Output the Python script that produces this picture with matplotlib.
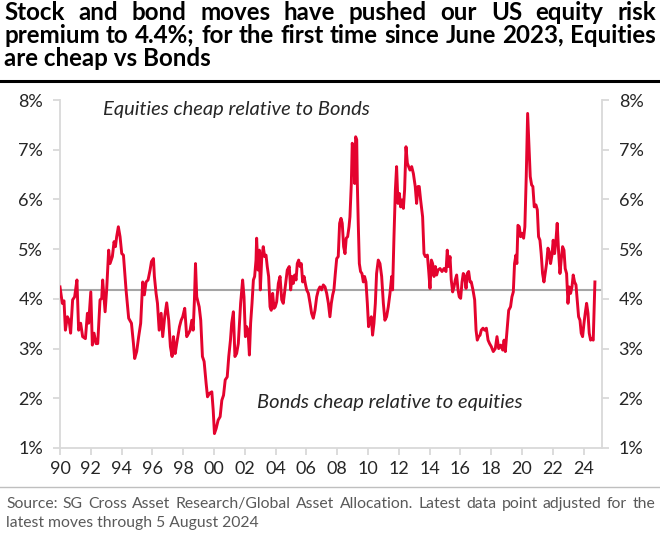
import matplotlib
matplotlib.use("Agg")
import matplotlib.pyplot as plt
from matplotlib.ticker import MultipleLocator, FuncFormatter

plt.rcParams['font.family'] = ['Lato', 'DejaVu Sans']

# decimal year, equity risk premium (%)
years = [
    1990.0, 1990.15, 1990.26, 1990.35, 1990.48, 1990.59, 1990.69, 1990.82, 1990.95, 1991.1,
    1991.21, 1991.34, 1991.47, 1991.65, 1991.78, 1991.86, 1992.0, 1992.1, 1992.21, 1992.34,
    1992.45, 1992.6, 1992.71, 1992.77, 1992.93, 1993.03, 1993.16, 1993.25, 1993.4, 1993.51,
    1993.6, 1993.68, 1993.79, 1993.9, 1994.01, 1994.12, 1994.29, 1994.46, 1994.64, 1994.77,
    1994.85, 1994.98, 1995.11, 1995.24, 1995.37, 1995.48, 1995.59, 1995.72, 1995.85, 1995.94,
    1996.07, 1996.13, 1996.24, 1996.33, 1996.44, 1996.57, 1996.67, 1996.8, 1996.93, 1997.06,
    1997.17, 1997.28, 1997.37, 1997.48, 1997.58, 1997.76, 1997.87, 1997.97, 1998.1, 1998.23,
    1998.36, 1998.45, 1998.56, 1998.65, 1998.73, 1998.8, 1998.88, 1999.04, 1999.14, 1999.25,
    1999.36, 1999.49, 1999.58, 1999.71, 1999.86, 1999.95, 2000.03, 2000.14, 2000.27, 2000.4,
    2000.51, 2000.62, 2000.73, 2000.86, 2000.96, 2001.07, 2001.15, 2001.26, 2001.36, 2001.47,
    2001.58, 2001.73, 2001.86, 2001.95, 2002.04, 2002.12, 2002.21, 2002.3, 2002.38, 2002.47,
    2002.56, 2002.64, 2002.73, 2002.77, 2002.86, 2002.95, 2003.01, 2003.1, 2003.2, 2003.29,
    2003.38, 2003.46, 2003.55, 2003.64, 2003.72, 2003.81, 2003.9, 2003.98, 2004.07, 2004.18,
    2004.29, 2004.4, 2004.5, 2004.63, 2004.76, 2004.89, 2004.98, 2005.07, 2005.15, 2005.24,
    2005.33, 2005.41, 2005.5, 2005.59, 2005.67, 2005.76, 2005.85, 2005.93, 2006.02, 2006.13,
    2006.24, 2006.34, 2006.45, 2006.56, 2006.67, 2006.78, 2006.88, 2006.99, 2007.1, 2007.21,
    2007.32, 2007.43, 2007.53, 2007.62, 2007.71, 2007.79, 2007.88, 2007.97, 2008.07, 2008.16,
    2008.25, 2008.33, 2008.42, 2008.51, 2008.59, 2008.68, 2008.77, 2008.83, 2008.92, 2008.98,
    2009.07, 2009.14, 2009.2, 2009.27, 2009.31, 2009.37, 2009.44, 2009.52, 2009.61, 2009.7,
    2009.78, 2009.87, 2009.96, 2010.04, 2010.13, 2010.22, 2010.3, 2010.39, 2010.48, 2010.56,
    2010.67, 2010.78, 2010.89, 2011.0, 2011.1, 2011.21, 2011.32, 2011.43, 2011.54, 2011.6,
    2011.69, 2011.78, 2011.86, 2011.95, 2012.04, 2012.12, 2012.21, 2012.3, 2012.38, 2012.47,
    2012.56, 2012.64, 2012.73, 2012.84, 2012.95, 2013.07, 2013.16, 2013.25, 2013.33, 2013.42,
    2013.55, 2013.64, 2013.73, 2013.86, 2013.94, 2014.03, 2014.12, 2014.2, 2014.29, 2014.38,
    2014.46, 2014.55, 2014.68, 2014.81, 2014.94, 2015.07, 2015.15, 2015.24, 2015.33, 2015.41,
    2015.5, 2015.59, 2015.67, 2015.76, 2015.85, 2015.93, 2016.02, 2016.11, 2016.19, 2016.28,
    2016.37, 2016.45, 2016.54, 2016.63, 2016.71, 2016.82, 2016.93, 2017.02, 2017.1, 2017.19,
    2017.28, 2017.36, 2017.47, 2017.58, 2017.69, 2017.8, 2017.9, 2018.01, 2018.14, 2018.27,
    2018.38, 2018.49, 2018.62, 2018.75, 2018.84, 2018.92, 2019.05, 2019.14, 2019.26, 2019.35,
    2019.44, 2019.52, 2019.61, 2019.67, 2019.74, 2019.83, 2019.91, 2020.0, 2020.11, 2020.19,
    2020.28, 2020.37, 2020.45, 2020.54, 2020.63, 2020.71, 2020.8, 2020.91, 2021.0, 2021.08,
    2021.17, 2021.25, 2021.34, 2021.43, 2021.51, 2021.6, 2021.69, 2021.77, 2021.86, 2021.95,
    2022.03, 2022.12, 2022.21, 2022.29, 2022.38, 2022.47, 2022.55, 2022.64, 2022.73, 2022.81,
    2022.9, 2022.99, 2023.07, 2023.16, 2023.25, 2023.33, 2023.42, 2023.51, 2023.59, 2023.68,
    2023.77, 2023.85, 2023.94, 2024.03, 2024.11, 2024.2, 2024.29, 2024.37, 2024.46, 2024.55,
    2024.63, 2024.74,
]
erp = [
    4.24, 3.91, 3.96, 3.37, 3.64, 3.57, 3.31, 3.98, 4.04, 4.38,
    3.37, 3.51, 3.24, 3.2, 3.71, 3.51, 4.14, 3.07, 3.31, 3.1,
    3.1, 3.98, 4.01, 4.38, 3.74, 4.18, 4.98, 4.71, 4.85, 5.15,
    5.05, 5.25, 5.45, 5.25, 4.91, 4.88, 4.18, 3.61, 3.51, 3.1,
    2.8, 2.94, 3.24, 3.51, 4.34, 4.08, 4.34, 4.38, 4.58, 4.75,
    4.81, 4.45, 4.11, 3.91, 3.37, 3.71, 3.24, 3.64, 3.92, 3.57,
    3.04, 2.84, 3.24, 2.9, 3.1, 3.44, 3.57, 3.64, 3.81, 3.24,
    3.31, 3.37, 3.57, 3.37, 3.98, 4.71, 4.04, 3.84, 3.57, 2.84,
    2.74, 2.3, 2.03, 2.1, 2.13, 1.76, 1.29, 1.39, 1.56, 1.63,
    1.96, 2.06, 2.37, 2.43, 2.84, 3.17, 3.51, 3.74, 2.84, 2.9,
    3.1, 3.91, 4.38, 4.04, 3.24, 3.44, 3.37, 2.87, 3.51, 3.91,
    4.38, 4.45, 4.78, 5.22, 4.58, 4.98, 4.18, 4.81, 5.05, 4.85,
    4.88, 4.65, 4.45, 3.84, 3.77, 4.11, 3.81, 3.84, 3.94, 4.31,
    4.45, 3.98, 3.91, 4.24, 4.58, 4.65, 4.18, 4.45, 4.31, 4.48,
    4.38, 4.71, 4.78, 4.65, 4.71, 4.34, 4.45, 4.31, 4.18, 4.11,
    3.91, 3.71, 3.61, 3.77, 4.04, 4.18, 4.24, 4.18, 4.28, 4.24,
    4.11, 3.91, 3.64, 3.91, 4.08, 4.18, 4.51, 4.81, 4.85, 5.52,
    5.62, 5.52, 5.05, 4.91, 5.22, 5.25, 5.45, 5.65, 6.32, 7.13,
    6.86, 6.32, 7.26, 7.2, 6.32, 5.52, 4.71, 4.55, 4.51, 4.34,
    4.45, 4.34, 3.91, 3.44, 3.57, 3.64, 3.27, 3.51, 3.91, 4.51,
    4.78, 4.71, 4.45, 3.91, 3.57, 3.64, 3.84, 4.11, 4.45, 4.18,
    5.25, 6.19, 6.66, 5.92, 6.12, 5.85, 5.99, 5.82, 6.19, 7.06,
    6.73, 6.66, 6.59, 6.66, 6.52, 6.26, 5.92, 6.26, 6.26, 5.99,
    5.65, 4.91, 4.85, 4.88, 4.58, 4.21, 4.78, 4.71, 4.45, 4.65,
    4.48, 4.58, 4.61, 4.55, 4.61, 4.55, 4.98, 4.65, 4.85, 4.38,
    4.14, 4.24, 4.38, 4.48, 4.18, 4.04, 4.01, 4.34, 4.51, 4.45,
    4.21, 4.51, 4.55, 4.34, 4.34, 4.18, 3.98, 3.37, 3.17, 3.24,
    3.27, 3.37, 3.41, 3.37, 3.41, 3.17, 3.1, 3.04, 2.94, 3.0,
    3.24, 3.0, 3.07, 2.97, 3.17, 2.94, 3.44, 3.77, 3.84, 4.04,
    4.14, 4.71, 4.88, 4.71, 5.48, 5.45, 5.25, 5.32, 5.22, 5.45,
    6.46, 7.73, 7.13, 6.46, 6.29, 6.26, 5.85, 5.89, 5.79, 5.25,
    5.18, 4.91, 4.51, 4.34, 4.51, 4.71, 5.02, 4.95, 4.71, 4.88,
    5.18, 4.91, 5.18, 5.52, 4.95, 4.51, 4.78, 5.05, 4.98, 4.61,
    4.51, 3.91, 4.24, 4.11, 4.24, 4.48, 4.34, 4.28, 3.98, 3.64,
    3.57, 3.31, 3.24, 3.51, 3.71, 3.91, 3.71, 3.31, 3.17, 3.2,
    3.17, 4.34,
]
avg_level = 4.18
year_ticks = list(range(1990, 2025, 2))

title_lines = [
    "Stock and bond moves have pushed our US equity risk",
    "premium to 4.4%; for the first time since June 2023, Equities",
    "are cheap vs Bonds",
]
source_lines = [
    "Source:  SG Cross Asset Research/Global Asset Allocation. Latest data point adjusted for the",
    "latest moves through 5 August 2024",
]

W, H = 660, 534
fig = plt.figure(figsize=(W / 100, H / 100), dpi=100)
ax = fig.add_axes([60 / W, 1 - 448 / H, (602 - 60) / W, (448 - 100) / H])

ax.plot(years, erp, color='#e4032e', lw=2.1, solid_joinstyle='round', zorder=3)
ax.axhline(avg_level, color='#a6a6a6', lw=1.5, zorder=2)

ax.set_xlim(1990, 2025.2)
ax.set_ylim(1, 8)
ax.set_xticks(year_ticks)
ax.xaxis.set_major_formatter(FuncFormatter(lambda v, p: '%02d' % (int(round(v)) % 100)))
ax.yaxis.set_major_locator(MultipleLocator(1))
ax.yaxis.set_major_formatter(FuncFormatter(lambda v, p: '%d%%' % v))

grey = '#d9d9d9'
for s in ['left', 'right', 'bottom']:
    ax.spines[s].set_color(grey)
    ax.spines[s].set_linewidth(1.3)
ax.spines['top'].set_visible(False)
ax.tick_params(axis='both', colors=grey, labelcolor='#262626', labelsize=13,
               length=5, width=1.3)
ax.tick_params(axis='y', left=True, right=True, labelleft=True, labelright=True, pad=7)
ax.tick_params(axis='x', pad=4)

ax.text(1992.8, 7.8, "Equities cheap relative to Bonds", style='italic',
        fontsize=14.5, color='#262626', va='center')
ax.text(2002.8, 1.92, "Bonds cheap relative to equities", style='italic',
        fontsize=14.5, color='#262626', va='center')

renderer = fig.canvas.get_renderer()


def fit_size(text, width_px, base, **kw):
    # font size at which the text, with normal spaces, is width_px wide
    t = fig.text(0, 0, text, fontsize=base, **kw)
    w = t.get_window_extent(renderer).width
    t.remove()
    return base * width_px / w


def put_line(text, y_px, x0, x1, justify, **kw):
    words = [w for w in text.split(' ') if w != '']
    if not justify:
        fig.text(x0 / W, 1 - y_px / H, text, va='baseline', **kw)
        return
    objs = [fig.text(0, 1 - y_px / H, w, va='baseline', **kw) for w in words]
    widths = [t.get_window_extent(renderer).width for t in objs]
    gap = (x1 - x0 - sum(widths)) / (len(words) - 1)
    x = x0
    for t, wd in zip(objs, widths):
        t.set_x(x / W)
        x += wd + gap


title_fs = fit_size(title_lines[1], 648, 13, fontweight='bold')
for i, line in enumerate(title_lines):
    put_line(line, 19.5 + i * 23.3, 4, 656, i < 2,
             fontsize=title_fs, fontweight='bold', color='black')

fig.add_artist(plt.Line2D([0, 1], [1 - 80.5 / H, 1 - 80.5 / H], color='black', lw=2.2))
fig.add_artist(plt.Line2D([0, 1], [1 - 487 / H, 1 - 487 / H], color='#bfbfbf', lw=1.0))

src_fs = fit_size(source_lines[0], 640, 10)
for i, line in enumerate(source_lines):
    put_line(line, 508 + i * 19, 6, 655, i == 0, fontsize=src_fs, color='#595959')

fig.savefig('out.png', dpi=100)
